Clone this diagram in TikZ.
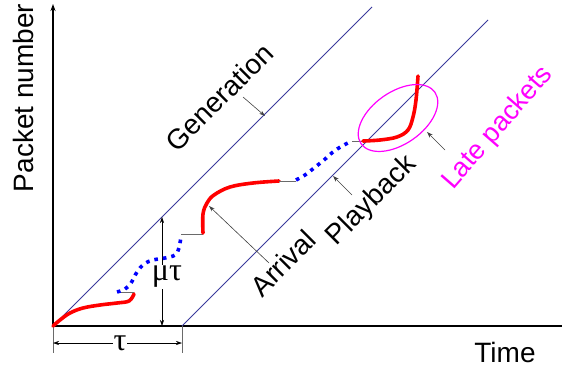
\documentclass[tikz,border=0pt]{standalone}
\usepackage{fontspec}
\setmainfont{Liberation Sans}
\newfontfamily\greekfont{Liberation Serif}
\usepackage{tikz}
\usetikzlibrary{positioning,calc,arrows.meta,shapes.geometric}
\definecolor{lineblue}{HTML}{3A3A9C}
\definecolor{pktred}{HTML}{FF0000}
\definecolor{pktblue}{HTML}{0000FF}
\definecolor{latemag}{HTML}{FF00FF}
\definecolor{linkgray}{HTML}{6A6A6A}
\tikzset{
  % --- axes and time lines ---
  axis/.style={line width=2pt, draw=black},
  tick/.style={line width=0.6pt, draw=linkgray},
  timeline/.style={line width=1pt, draw=lineblue},
  % --- packet traces ---
  arrived/.style={line width=3.6pt, draw=pktred, line cap=round},
  missing/.style={line width=3.6pt, draw=pktblue, dash pattern=on 3.6pt off 5pt},
  joinline/.style={line width=0.8pt, draw=linkgray},
  % --- labels and pointers ---
  lbl/.style={font=\fontsize{28}{30}\selectfont, inner sep=1pt},
  greeklbl/.style={font=\greekfont\fontsize{32}{34}\selectfont, fill=white,
                   inner sep=1pt},
  pointer/.style={line width=0.6pt, draw=black!75,
                  -{Stealth[length=6pt,width=4pt]}},
  span/.style={line width=0.6pt, draw=black,
               {Stealth[length=6pt,width=4pt]}-{Stealth[length=6pt,width=4pt]}},
}

\begin{document}
\begin{tikzpicture}[x=1pt,y=1pt]
  \useasboundingbox (-53,-47) rectangle (509,326);

  % --- axes ---
  \coordinate (o) at (0,0);
  \coordinate (ytop) at (0,322);
  \coordinate (xend) at (509,0);
  \draw[axis] (o) -- (xend);
  \draw[axis, -{Stealth[length=7pt,width=5pt]}] (o) -- (ytop);
  \node[lbl, rotate=90] (ylab) at (-30,228) {Packet number};
  \node[lbl] (xlab) at (452,-26) {Time};

  % --- generation and playback lines ---
  \coordinate (g0) at (0,0);
  \coordinate (g1) at (319,319);
  \coordinate (p0) at (129,0);
  \coordinate (p1) at (435,306);
  \draw[timeline] (g0) -- (g1);
  \draw[timeline] (p0) -- (p1);

  % --- tau and mu tau spans ---
  \coordinate (t0) at (0,-27);
  \coordinate (t1) at (129,-27);
  \draw[tick] (o) -- (t0);
  \draw[tick] (p0) -- (t1);
  \coordinate (ta) at (0,-17);
  \coordinate (tb) at (129,-17);
  \draw[span] (ta) -- (tb);
  \node[greeklbl] (tau) at (67,-17) {τ};
  \coordinate (ma) at (109,0);
  \coordinate (mb) at (109,109);
  \draw[span] (ma) -- (mb);
  \node[greeklbl] (mutau) at (114,49) {μτ};

  % --- packet traces: arrived (red), missing (blue dots) ---
  \draw[arrived] plot[smooth, tension=0.6] coordinates
        {(0,0) (7,6) (17,13) (30,18) (47,21) (64,23) (76,25) (81,32)};
  \draw[joinline] (64,34) -- (81,34);
  \draw[missing] plot[smooth, tension=0.6] coordinates
        {(64,34) (72,37) (78,43) (84,54) (91,62) (100,66) (112,68)
         (122,71) (126,78) (128,90)};
  \draw[joinline] (128,92) -- (150,92);
  \draw[arrived] plot[smooth, tension=0.6] coordinates
        {(150,93) (150,112) (154,123) (161,131) (177,139) (200,143) (226,145)};
  \draw[joinline] (226,145) -- (243,145);
  \draw[missing] plot[smooth, tension=0.6] coordinates
        {(243,146) (252,151) (261,158) (271,166) (280,174) (289,180) (299,185)};
  \draw[joinline] (299,185) -- (310,185);
  \draw[arrived] plot[smooth, tension=0.6] coordinates
        {(310,185) (327,186) (344,189) (355,196) (360,209) (363,226) (365,250)};

  % --- late packets ---
  \node[draw=latemag, line width=1.2pt, ellipse, rotate=35, minimum width=90pt,
        minimum height=52pt, inner sep=0pt] (late) at (345,208) {};

  % --- labels with pointers ---
  \node[lbl, rotate=45] (gen) at (166,229) {Generation};
  \coordinate (genfrom) at (190,229);
  \coordinate (gento) at (212,210);
  \draw[pointer] (genfrom) -- (gento);

  \node[lbl, rotate=45] (arr) at (230,63) {Arrival};
  \coordinate (arrfrom) at (216,63);
  \coordinate (arrto) at (156,120);
  \draw[pointer] (arrfrom) -- (arrto);

  \node[lbl, rotate=45] (play) at (319,125) {Playback};
  \coordinate (playfrom) at (299,131);
  \coordinate (playto) at (280,150);
  \draw[pointer] (playfrom) -- (playto);

  \node[lbl, rotate=49, text=latemag, font=\fontsize{27}{29}\selectfont]
        (latelbl) at (445,198) {Late packets};
  \coordinate (latefrom) at (392,176);
  \coordinate (lateto) at (374,194);
  \draw[pointer] (latefrom) -- (lateto);
\end{tikzpicture}
\end{document}
